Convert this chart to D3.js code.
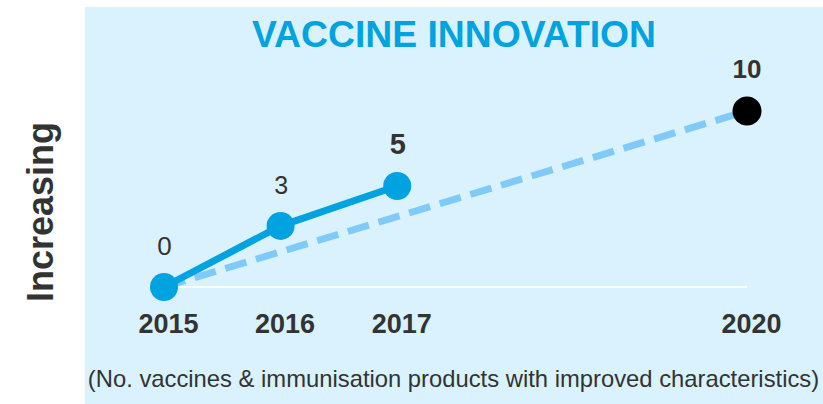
<!DOCTYPE html>
<html>
<head>
<meta charset="utf-8">
<script src="https://cdn.jsdelivr.net/npm/d3@7"></script>
<style>
  html, body { margin: 0; padding: 0; background: #ffffff; }
  svg { display: block; }
  text { font-family: "Liberation Sans", Arial, Helvetica, sans-serif; }
</style>
</head>
<body>
<svg id="chart" width="823" height="404"></svg>
<script>
// ---- data ----
const years = [2015, 2016, 2017, 2020];
const actualYears = [2015, 2016, 2017];
const actualLabels = ["0", "3", "5"];
const actualLevels = [0, 3.47, 5.74];        // plotted height on the "Increasing" axis
const targetYears = [2015, 2020];
const targetLevels = [0, 10];
const targetLabel = "10";
const yearLabels = ["2015", "2016", "2017", "2020"];
const title = "VACCINE INNOVATION";
const yAxisTitle = "Increasing";
const subtitle = "(No. vaccines & immunisation products with improved characteristics)";

// ---- styles ----
const panelColor = "#d9f2fd";
const titleColor = "#00a3e0";
const solidColor = "#00a3e0";
const dashColor = "#7fcaf9";
const textColor = "#333333";

const svg = d3.select("#chart");

// panel
svg.append("rect").attr("x", 85).attr("y", 7).attr("width", 738).attr("height", 397)
  .attr("fill", panelColor);

const x = d3.scaleLinear().domain([2015, 2020]).range([164, 747]);
const y = d3.scaleLinear().domain([0, 10]).range([287, 111]);

// baseline
svg.append("line")
  .attr("x1", x(2015)).attr("x2", x(2020))
  .attr("y1", y(0)).attr("y2", y(0))
  .attr("stroke", "#ffffff").attr("stroke-width", 2);

// title
svg.append("text").attr("x", 454).attr("y", 47)
  .attr("text-anchor", "middle").attr("font-size", 37.3).attr("font-weight", "bold")
  .attr("fill", titleColor).text(title);

// y axis title
svg.append("text")
  .attr("transform", "translate(53,212) rotate(-90)")
  .attr("text-anchor", "middle").attr("font-size", 36).attr("font-weight", "bold")
  .attr("fill", textColor).text(yAxisTitle);

// target dashed line
const line = d3.line().x(d => x(d[0])).y(d => y(d[1]));
svg.append("path")
  .datum(targetYears.map((yr, i) => [yr, targetLevels[i]]))
  .attr("d", line)
  .attr("fill", "none").attr("stroke", dashColor).attr("stroke-width", 7)
  .attr("stroke-dasharray", "22,10");

// actual solid line
const actual = actualYears.map((yr, i) => [yr, actualLevels[i]]);
svg.append("path").datum(actual).attr("d", line)
  .attr("fill", "none").attr("stroke", solidColor).attr("stroke-width", 7)
  .attr("stroke-linejoin", "round");

svg.selectAll("circle.actual").data(actual).enter().append("circle")
  .attr("class", "actual")
  .attr("cx", d => x(d[0])).attr("cy", d => y(d[1])).attr("r", 14)
  .attr("fill", solidColor);

// target point
svg.append("circle").attr("cx", x(2020)).attr("cy", y(targetLevels[1])).attr("r", 14.5)
  .attr("fill", "#000000");

// value labels
const labelWeights = ["normal", "normal", "bold"];
const labelSizes = [26, 25, 29];
svg.selectAll("text.val").data(actual).enter().append("text")
  .attr("class", "val")
  .attr("x", d => x(d[0]) + 0.5).attr("y", d => y(d[1]) - 32)
  .attr("text-anchor", "middle")
  .attr("font-size", (d, i) => labelSizes[i])
  .attr("font-weight", (d, i) => labelWeights[i])
  .attr("fill", textColor)
  .text((d, i) => actualLabels[i]);

svg.append("text").attr("x", x(2020)).attr("y", y(targetLevels[1]) - 33)
  .attr("text-anchor", "middle").attr("font-size", 26).attr("font-weight", "bold")
  .attr("fill", textColor).text(targetLabel);

// year labels
svg.selectAll("text.year").data(years).enter().append("text")
  .attr("class", "year")
  .attr("x", d => x(d) + 4.5).attr("y", 333)
  .attr("text-anchor", "middle").attr("font-size", 27).attr("font-weight", "bold")
  .attr("fill", textColor)
  .text((d, i) => yearLabels[i]);

// subtitle
svg.append("text").attr("x", 453.5).attr("y", 387)
  .attr("text-anchor", "middle").attr("font-size", 23.8)
  .attr("fill", textColor).text(subtitle);
</script>
</body>
</html>
